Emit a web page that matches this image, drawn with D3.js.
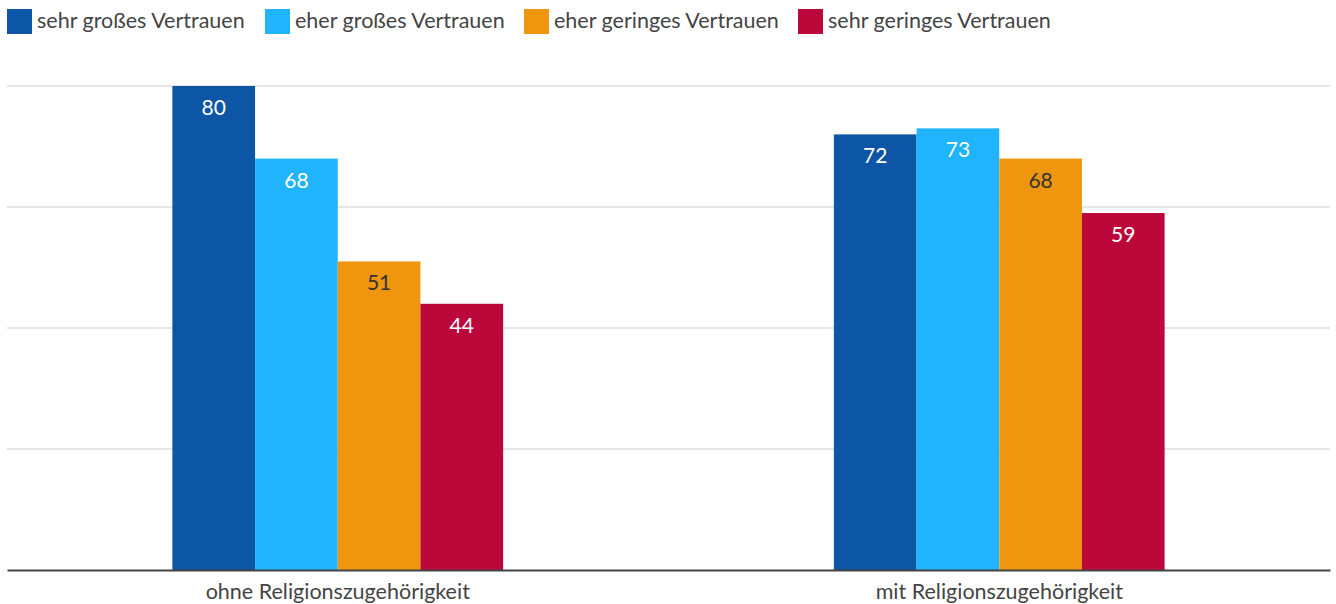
<!DOCTYPE html>
<html>
<head>
<meta charset="utf-8">
<script src="https://cdn.jsdelivr.net/npm/d3@7"></script>
<style>
  body { margin: 0; background: #fff; }
  svg { font-family: Lato, "Open Sans", sans-serif; }
</style>
</head>
<body>
<div id="chart"></div>
<script>
// Chart size
var width = 1336,
    height = 604;

var categories = ["ohne Religionszugehörigkeit", "mit Religionszugehörigkeit"];
var series = ["sehr großes Vertrauen", "eher großes Vertrauen", "eher geringes Vertrauen", "sehr geringes Vertrauen"];
var colors = ["#0d55a5", "#20b4ff", "#f0960e", "#bc073b"];
var labelColors = ["#ffffff", "#ffffff", "#333333", "#ffffff"];
var values = [
    [80, 68, 51, 44],
    [72, 73, 68, 59]
];
var yTicks = [0, 20, 40, 60, 80];

var margin = {top: 86, right: 6, bottom: 34, left: 7};

var svg = d3.select("#chart")
    .append("svg")
    .attr("width", width)
    .attr("height", height);

var x0 = d3.scaleBand()
    .domain(categories)
    .range([margin.left, width - margin.right]);

var x1 = d3.scaleBand()
    .domain(series)
    .range([0, x0.bandwidth() * 0.5]);

var y = d3.scaleLinear()
    .domain([0, 80])
    .range([height - margin.bottom, margin.top]);

// gridlines
svg.append("g")
    .selectAll("line")
    .data(yTicks.slice(1))
    .enter()
    .append("line")
    .attr("x1", margin.left)
    .attr("x2", width - margin.right)
    .attr("y1", function(d) { return y(d); })
    .attr("y2", function(d) { return y(d); })
    .attr("stroke", "#e6e6e6")
    .attr("stroke-width", 2);

// bars
var groups = svg.selectAll(".group")
    .data(categories)
    .enter()
    .append("g")
    .attr("class", "group")
    .attr("transform", function(d) {
        return "translate(" + (x0(d) + x0.bandwidth() * 0.25) + ",0)";
    });

groups.selectAll("rect")
    .data(function(d, i) {
        return values[i].map(function(v, j) { return {s: series[j], v: v, j: j}; });
    })
    .enter()
    .append("rect")
    .attr("x", function(d) { return x1(d.s); })
    .attr("width", x1.bandwidth())
    .attr("y", function(d) { return y(d.v); })
    .attr("height", function(d) { return y(0) - y(d.v); })
    .attr("fill", function(d) { return colors[d.j]; });

groups.selectAll("text")
    .data(function(d, i) {
        return values[i].map(function(v, j) { return {s: series[j], v: v, j: j}; });
    })
    .enter()
    .append("text")
    .attr("x", function(d) { return x1(d.s) + x1.bandwidth() / 2; })
    .attr("y", function(d) { return y(d.v) + 29; })
    .attr("text-anchor", "middle")
    .attr("font-size", 21)
    .attr("fill", function(d) { return labelColors[d.j]; })
    .text(function(d) { return d.v; });

// x axis
var xAxis = d3.axisBottom(x0).tickSize(0).tickPadding(14);
var gx = svg.append("g")
    .attr("transform", "translate(0," + y(0) + ")")
    .call(xAxis);
gx.select(".domain").attr("stroke", "#444").attr("stroke-width", 2);
gx.selectAll("text")
    .attr("font-family", "Lato")
    .attr("font-size", 21.5)
    .attr("fill", "#444");

// legend
var legendX = [7, 265, 524, 798];
var legend = svg.selectAll(".legend")
    .data(series)
    .enter()
    .append("g")
    .attr("class", "legend")
    .attr("transform", function(d, i) { return "translate(" + legendX[i] + ",9)"; });

legend.append("rect")
    .attr("width", 25)
    .attr("height", 25)
    .attr("fill", function(d, i) { return colors[i]; });

legend.append("text")
    .attr("x", 30)
    .attr("y", 19)
    .attr("font-size", 21.5)
    .attr("fill", "#444")
    .text(function(d) { return d; });
</script>
</body>
</html>
